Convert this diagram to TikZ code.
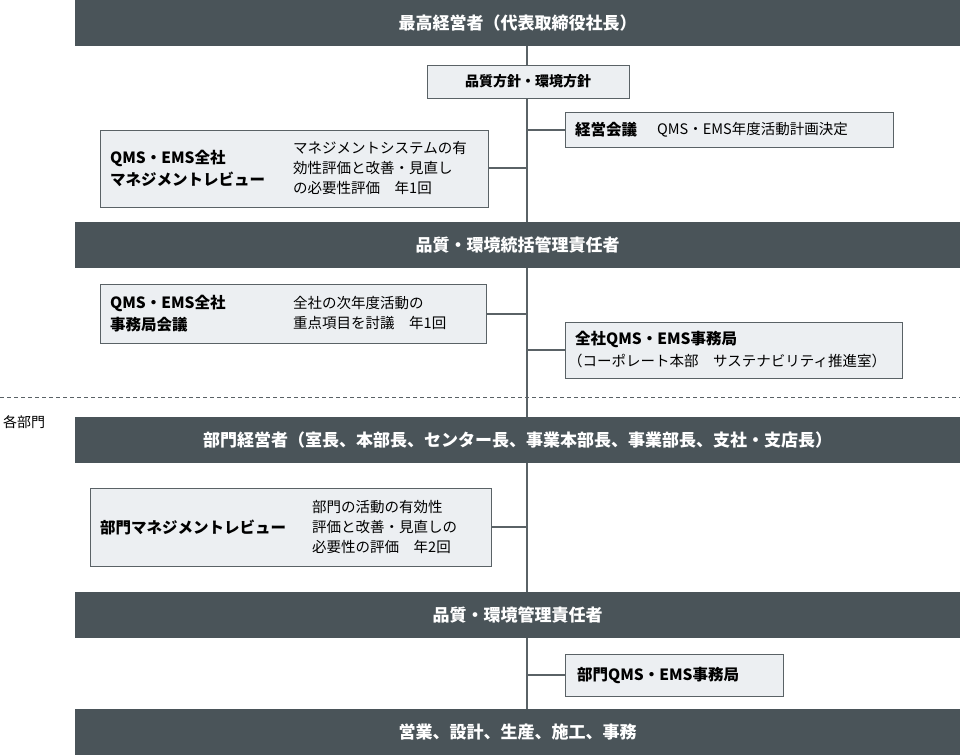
\documentclass[tikz,border=0pt]{standalone}
\usepackage{fontspec}
\setmainfont{Noto Sans CJK JP}
\newfontfamily\bfj{Noto Sans CJK JP}[FakeBold=1.5]
\definecolor{bar}{HTML}{4A5459}
\definecolor{boxf}{HTML}{ECEFF2}
\definecolor{boxd}{HTML}{5A6266}
\begin{document}
\begin{tikzpicture}[x=1pt,y=-1pt,
  barn/.style={fill=bar,text=white,font=\fontsize{17}{20}\selectfont\bfseries,inner sep=0},
  lb/.style={draw=boxd,fill=boxf,line width=0.8pt},
  ln/.style={draw=boxd,line width=2pt},
  t/.style={font=\fontsize{14.5}{20}\selectfont,align=left,anchor=west,inner sep=0},
  tb/.style={t,font=\fontsize{15.5}{22}\selectfont\bfseries}]
\useasboundingbox (0,0) rectangle (960,755);
\coordinate (top) at (527,46); \coordinate (bot) at (527,709);
\draw[ln] (top) -- (bot);
\foreach \n/\a/\b/\txt in {b1/0/46/最高経営者（代表取締役社長）,b2/222/268/品質・環境統括管理責任者,b3/417/463/部門経営者（室長、本部長、センター長、事業本部長、事業部長、支社・支店長）,b4/592/638/品質・環境管理責任者,b5/709/755/営業、設計、生産、施工、事務}
  \node[barn,minimum width=885,minimum height=\b-\a] (\n) at (517.5,{(\a+\b)/2}) {\txt};
% policy
\node[lb,minimum width=202,minimum height=33,font=\fontsize{14}{16}\selectfont\bfseries,inner sep=0] (pol) at (528,81.5) {品質方針・環境方針};
% keiei
\draw[lb] (565,112) rectangle (893,147);
\node[tb] (k1) at (575,129.5) {経営会議};
\node[t] (k2) at (657,129.5) {QMS・EMS年度活動計画決定};
\coordinate (kc) at (565,129.5);
\draw[ln] (527,129.5) -- (kc);
% MR
\draw[lb] (100,130) rectangle (488,207);
\node[tb] at (110,168) {QMS・EMS全社\\マネジメントレビュー};
\node[t] at (293,168) {マネジメントシステムの有\\効性評価と改善・見直し\\の必要性評価\quad 年1回};
\coordinate (mc) at (488,168);
\draw[ln] (mc) -- (527,168);
% jimukyoku kaigi
\draw[lb] (100,284) rectangle (486,343);
\node[tb] at (110,313.5) {QMS・EMS全社\\事務局会議};
\node[t] at (293,313.5) {全社の次年度活動の\\重点項目を討議\quad 年1回};
\coordinate (jc) at (486,313.5);
\draw[ln] (jc) -- (527,313.5);
% zensha jimukyoku
\draw[lb] (565,322) rectangle (902,378);
\node[t,font=\fontsize{15.5}{22}\selectfont\bfseries] at (575,339) {全社QMS・EMS事務局};
\node[t] at (568,361) {（コーポレート本部\quad サステナビリティ推進室）};
\coordinate (zc) at (565,350);
\draw[ln] (527,350) -- (zc);
% dashed
\draw[boxd,line width=1pt,dashed,dash pattern=on 4pt off 3pt] (0,397) -- (960,397);
\node[t,font=\fontsize{14}{16}\selectfont] (kaku) at (3,422) {各部門};
% bumon MR
\draw[lb] (90,488) rectangle (491,566);
\node[tb] at (100,527) {部門マネジメントレビュー};
\node[t] at (312,527) {部門の活動の有効性\\評価と改善・見直しの\\必要性の評価\quad 年2回};
\coordinate (bc) at (491,527);
\draw[ln] (bc) -- (527,527);
% bumon jimukyoku
\draw[lb] (565,654) rectangle (783,696);
\node[tb] at (577,675) {部門QMS・EMS事務局};
\coordinate (dc) at (565,675);
\draw[ln] (527,675) -- (dc);
\end{tikzpicture}
\end{document}
